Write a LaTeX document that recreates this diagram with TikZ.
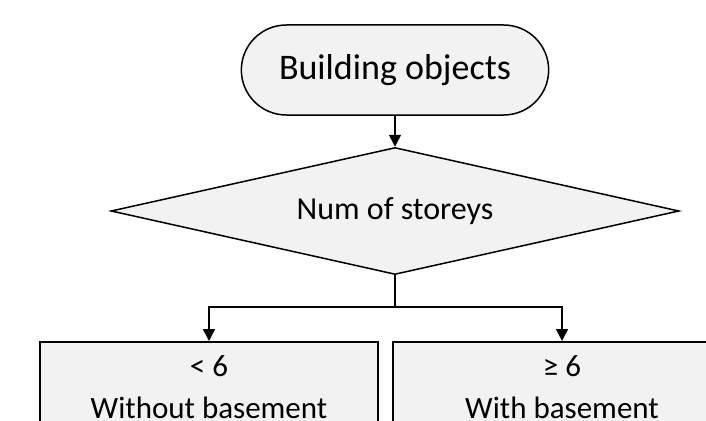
\documentclass[tikz,border=0pt]{standalone}
\usepackage{fontspec}
\setmainfont{Carlito}
\definecolor{BoxFill}{HTML}{F2F2F2}
\usetikzlibrary{shapes.geometric, shapes.misc, arrows.meta}

\begin{document}
\begin{tikzpicture}[x=1pt, y=-1pt]
    \tikzset{%
        base/.style={draw=black, line width=1.5pt, fill=BoxFill},
        startstop/.style={base, rounded rectangle, minimum width=314pt, minimum height=90pt,
                font=\fontsize{36pt}{42pt}\selectfont},
        decision/.style={base, diamond, aspect=4.47, inner sep=0pt, minimum width=568pt, minimum height=127pt,
                font=\fontsize{32pt}{38pt}\selectfont},
        branch/.style={base, rectangle, anchor=north, align=center, minimum width=338pt,
                inner ysep=14pt, text depth=80pt, font=\fontsize{31pt}{42pt}\selectfont},
        flow/.style={line width=1.5pt, -{Triangle[width=12pt, length=12pt]}}
    }

    \useasboundingbox (0, 0) rectangle (706, 420);
    \clip (0, 0) rectangle (706, 420);

    % terminal, decision and the two cases
    \node[startstop] (start) at (395, 70) {Building objects};
    \node[decision] (storeys) at (395, 211) {Num of storeys};
    \node[branch] (low) at (209, 341) {< 6\\Without basement};
    \node[branch] (high) at (562, 341) {≥ 6\\With basement};
    \coordinate (split) at (395, 307);

    \draw[flow] (start.south) -- (storeys.north);
    \draw[line width=1.5pt] (storeys.south) -- (split);
    \draw[flow] (split) -| (low.north);
    \draw[flow] (split) -| (high.north);
\end{tikzpicture}
\end{document}
